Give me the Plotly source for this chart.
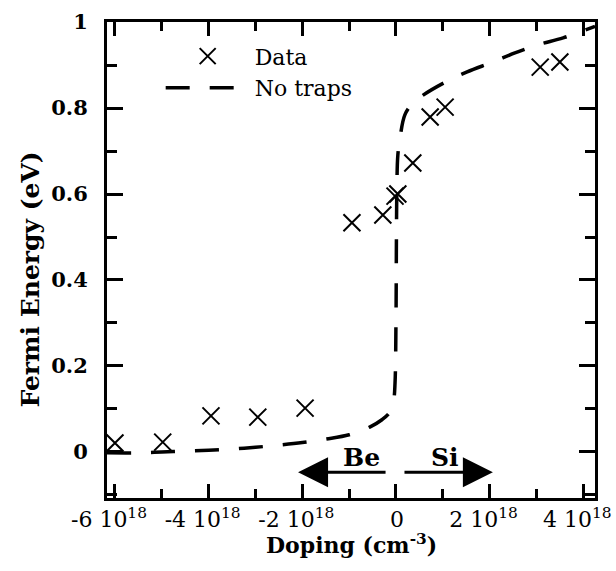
import plotly.graph_objects as go

# Measured Fermi energy versus doping (units of 1e18 cm^-3, eV)
data_doping = [-6.0, -4.98, -3.95, -2.95, -1.94, -0.94, -0.28, -0.02, 0.04, 0.36, 0.73, 1.05, 3.08, 3.5]
data_energy = [0.021, 0.023, 0.084, 0.081, 0.102, 0.533, 0.551, 0.595, 0.600, 0.672, 0.779, 0.802, 0.895, 0.907]

# Calculated curve without traps
calc_doping = [-6.17, -5.5, -5.0, -4.5, -4.0, -3.5, -3.0, -2.5, -2.0, -1.5, -1.0, -0.56, -0.3,
               -0.13, -0.05, -0.02, 0.0, 0.01, 0.02, 0.04, 0.09, 0.19, 0.35, 0.58, 1.05, 1.52,
               2.07, 2.54, 3.03, 3.57, 4.15, 4.25]
calc_energy = [-0.002, -0.002, 0.0, 0.002, 0.004, 0.007, 0.011, 0.016, 0.022, 0.03, 0.04, 0.058,
               0.075, 0.093, 0.12, 0.16, 0.3, 0.5, 0.62, 0.69, 0.733, 0.784, 0.81, 0.83, 0.86,
               0.884, 0.907, 0.928, 0.947, 0.963, 0.986, 0.99]

x_tick_vals = [-6, -4, -2, 0, 2, 4]
x_tick_text = ["-6 10<sup>18</sup>", "-4 10<sup>18</sup>", "-2 10<sup>18</sup>", "\u00a0\u00a00",
               "2 10<sup>18</sup>", "4 10<sup>18</sup>"]
y_tick_vals = [0, 0.2, 0.4, 0.6, 0.8, 1.0]
y_tick_text = ["0", "0.2", "0.4", "0.6", "0.8", "1"]

SERIF = '"DejaVu Serif", serif'

fig = go.Figure()
fig.add_trace(go.Scatter(
    x=data_doping, y=data_energy, mode="markers", name="Data",
    marker=dict(symbol="x-thin-open", size=17, color="black", line=dict(width=2, color="black")),
))
fig.add_trace(go.Scatter(
    x=calc_doping, y=calc_energy, mode="lines", name="No traps",
    line=dict(color="black", width=3.5, dash="24px,20px"), line_shape="spline",
))

# Donor / acceptor direction arrows
arrow_y = -0.047
fig.add_annotation(x=-2.09, y=arrow_y, ax=-0.19, ay=arrow_y, xref="x", yref="y",
                   axref="x", ayref="y", text="", showarrow=True, arrowhead=2,
                   arrowsize=2.0, arrowwidth=3, arrowcolor="black")
fig.add_annotation(x=2.07, y=arrow_y, ax=0.15, ay=arrow_y, xref="x", yref="y",
                   axref="x", ayref="y", text="", showarrow=True, arrowhead=2,
                   arrowsize=2.0, arrowwidth=3, arrowcolor="black")
fig.add_annotation(x=-0.73, y=-0.012, text="<b>Be</b>", showarrow=False,
                   font=dict(family=SERIF, size=25, color="black"))
fig.add_annotation(x=1.05, y=-0.012, text="<b>Si</b>", showarrow=False,
                   font=dict(family=SERIF, size=25, color="black"))

# Axis titles
fig.add_annotation(x=-0.157, y=0.46, xref="paper", yref="paper", text="<b>Fermi Energy (eV)</b>",
                   textangle=-90, showarrow=False, xanchor="center", yanchor="middle",
                   font=dict(family=SERIF, size=25, color="black"))
fig.add_annotation(x=0.5, y=-0.097, xref="paper", yref="paper", text="<b>Doping (cm<sup>-3</sup>)</b>",
                   showarrow=False, xanchor="center", yanchor="middle",
                   font=dict(family=SERIF, size=22, color="black"))

fig.update_layout(
    width=616, height=571,
    margin=dict(l=107, r=21, t=22, b=73, autoexpand=False),
    paper_bgcolor="white", plot_bgcolor="white",
    showlegend=True,
    legend=dict(x=0.11, y=0.972, xanchor="left", yanchor="top", bgcolor="rgba(0,0,0,0)",
                font=dict(family=SERIF, size=22, color="black"), itemwidth=84,
                tracegroupgap=0),
    font=dict(family=SERIF, color="black"),
)

fig.update_xaxes(
    range=[-6.17, 4.25], showgrid=False, zeroline=False, automargin=False,
    showline=True, linewidth=3, linecolor="black", mirror="allticks",
    ticks="inside", ticklen=14, tickwidth=2.5, tickcolor="black",
    tickvals=x_tick_vals, ticktext=x_tick_text,
    tickfont=dict(family=SERIF, size=22, color="black"),
    ticklabeloverflow="allow", ticklabelshift=-6,
    minor=dict(dtick=1, tick0=0, ticks="inside", ticklen=9, tickwidth=2.5, tickcolor="black"),
)
fig.update_yaxes(
    range=[-0.107, 1.0], showgrid=False, zeroline=False, automargin=False,
    showline=True, linewidth=3, linecolor="black", mirror="allticks",
    ticks="inside", ticklen=16, tickwidth=2.5, tickcolor="black",
    tickvals=y_tick_vals, ticktext=y_tick_text,
    tickfont=dict(family=SERIF, size=21, color="black", weight="bold"),
    ticklabelstandoff=12,
    minor=dict(dtick=0.1, tick0=0, ticks="inside", ticklen=10, tickwidth=2.5, tickcolor="black"),
)

fig.write_html("out.html")
